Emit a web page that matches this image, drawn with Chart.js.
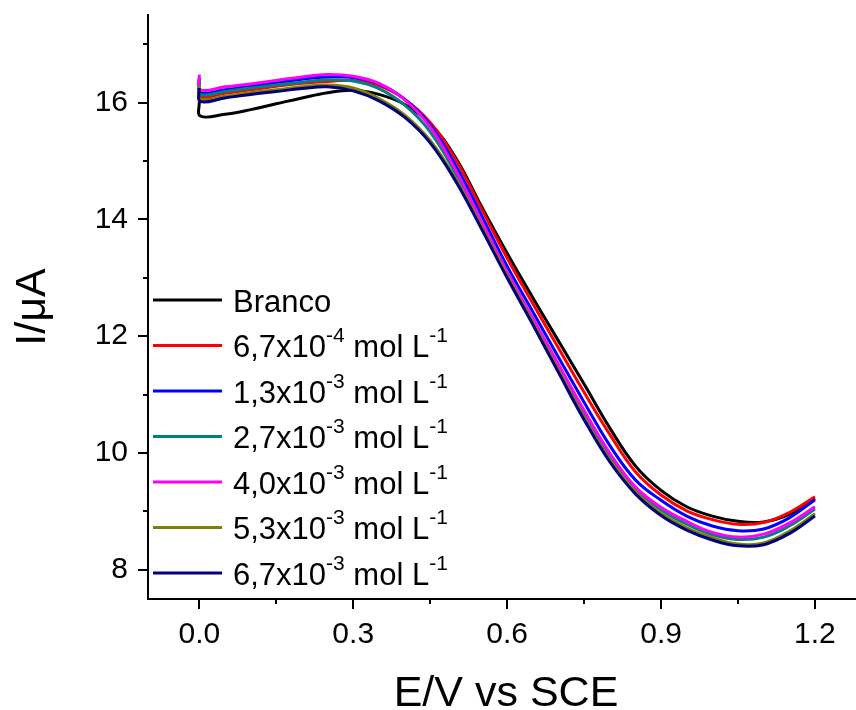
<!DOCTYPE html>
<html>
<head>
<meta charset="utf-8">
<script src="https://cdn.jsdelivr.net/npm/chart.js@4.4.0/dist/chart.umd.min.js"></script>
<style>
  html, body { margin: 0; padding: 0; background: #fff; }
  canvas { display: block; }
</style>
</head>
<body>
<canvas id="chart" width="856" height="710"></canvas>
<script>
'use strict';

/* ---- data ---- */
const E_V = [0, 0.002, 0.05, 0.1, 0.15, 0.2, 0.25, 0.3, 0.35, 0.4, 0.45, 0.5, 0.55, 0.6,
             0.65, 0.7, 0.75, 0.8, 0.85, 0.9, 0.95, 1.0, 1.05, 1.1, 1.15, 1.2];

const branco = [16.02, 15.77, 15.80, 15.88, 15.98, 16.08, 16.17, 16.21, 16.14, 15.97, 15.64, 15.05, 14.22,
                13.42, 12.66, 11.92, 11.18, 10.43, 9.78, 9.36, 9.08, 8.92, 8.83, 8.82, 8.95, 9.22];
const c67e4  = [16.35, 16.10, 16.16, 16.22, 16.28, 16.33, 16.36, 16.38, 16.29, 16.06, 15.66, 15.02, 14.18,
                13.34, 12.56, 11.80, 11.04, 10.32, 9.68, 9.28, 9.01, 8.86, 8.78, 8.81, 8.98, 9.25];
const c13e3  = [16.42, 16.17, 16.22, 16.28, 16.34, 16.40, 16.44, 16.43, 16.32, 16.06, 15.62, 14.92, 14.07,
                13.20, 12.42, 11.64, 10.87, 10.13, 9.54, 9.19, 8.92, 8.75, 8.67, 8.70, 8.89, 9.20];
const c27e3  = [16.38, 16.14, 16.19, 16.25, 16.30, 16.35, 16.39, 16.37, 16.24, 15.96, 15.50, 14.78, 13.93,
                13.08, 12.28, 11.48, 10.68, 9.95, 9.39, 9.03, 8.78, 8.60, 8.52, 8.56, 8.75, 9.04];
const c40e3  = [16.48, 16.22, 16.27, 16.32, 16.38, 16.44, 16.48, 16.45, 16.33, 16.05, 15.58, 14.84, 13.97,
                13.10, 12.31, 11.52, 10.73, 10.00, 9.42, 9.07, 8.83, 8.64, 8.56, 8.61, 8.80, 9.08];
const c53e3  = [16.30, 16.06, 16.11, 16.17, 16.22, 16.27, 16.30, 16.25, 16.07, 15.79, 15.35, 14.69, 13.88,
                13.04, 12.24, 11.42, 10.61, 9.89, 9.34, 8.97, 8.72, 8.55, 8.44, 8.46, 8.66, 8.96];
const c67e3  = [16.25, 16.02, 16.08, 16.14, 16.19, 16.24, 16.27, 16.20, 16.03, 15.75, 15.31, 14.65, 13.84,
                13.00, 12.20, 11.38, 10.57, 9.85, 9.30, 8.93, 8.68, 8.51, 8.41, 8.43, 8.62, 8.92];

const SERIES = [branco, c67e4, c13e3, c27e3, c40e3, c53e3, c67e3];
const COLORS = ['#000000', '#FF0000', '#0000FF', '#008080', '#FF00FF', '#808000', '#000080'];
const LEGEND_BASE = ['Branco', '6,7x10', '1,3x10', '2,7x10', '4,0x10', '5,3x10', '6,7x10'];
const LEGEND_EXP  = [null, '-4', '-3', '-3', '-3', '-3', '-3'];

const X_MAJOR = [0, 0.3, 0.6, 0.9, 1.2];
const X_MINOR = [0.15, 0.45, 0.75, 1.05];
const Y_MAJOR = [8, 10, 12, 14, 16];
const Y_MINOR = [9, 11, 13, 15, 17];

const X_TITLE = 'E/V vs SCE';
const Y_TITLE = 'I/\u03BCA';

const FONT = '"Liberation Sans", Arial, sans-serif';

/* ---- ticks, titles and legend drawn on top of the chart ---- */
const axisDecor = {
  id: 'axisDecor',
  afterDraw(chart) {
    const { ctx, chartArea: a, scales: { x, y } } = chart;
    ctx.save();
    ctx.strokeStyle = '#000';
    ctx.lineWidth = 2;
    ctx.beginPath();
    const xt = (v, len) => { const p = Math.round(x.getPixelForValue(v)); ctx.moveTo(p, a.bottom); ctx.lineTo(p, a.bottom + len); };
    const yt = (v, len) => { const p = Math.round(y.getPixelForValue(v)); ctx.moveTo(a.left, p); ctx.lineTo(a.left - len, p); };
    X_MAJOR.forEach(v => xt(v, 10));
    X_MINOR.forEach(v => xt(v, 5));
    Y_MAJOR.forEach(v => yt(v, 10));
    Y_MINOR.forEach(v => yt(v, 5));
    ctx.stroke();

    // axis titles
    ctx.fillStyle = '#000';
    ctx.textBaseline = 'alphabetic';
    ctx.textAlign = 'center';
    ctx.font = '43px ' + FONT;
    ctx.fillText(X_TITLE, 506, 706);
    ctx.save();
    ctx.translate(45, (a.top + a.bottom) / 2);
    ctx.rotate(-Math.PI / 2);
    ctx.fillText(Y_TITLE, 0, 0);
    ctx.restore();

    // legend with superscripts
    ctx.textAlign = 'left';
    ctx.lineWidth = 3;
    const main = '31px ' + FONT, sup = '21px ' + FONT;
    LEGEND_BASE.forEach((base, i) => {
      const cy = 300 + i * 45.5;
      ctx.strokeStyle = COLORS[i];
      ctx.beginPath();
      ctx.moveTo(153, cy);
      ctx.lineTo(222, cy);
      ctx.stroke();
      const bl = cy + 11.5;
      let tx = 233;
      ctx.font = main;
      ctx.fillText(base, tx, bl);
      if (!LEGEND_EXP[i]) return;
      tx += ctx.measureText(base).width;
      ctx.font = sup;
      ctx.fillText(LEGEND_EXP[i], tx, bl - 15);
      tx += ctx.measureText(LEGEND_EXP[i]).width;
      ctx.font = main;
      ctx.fillText(' mol L', tx, bl);
      tx += ctx.measureText(' mol L').width;
      ctx.font = sup;
      ctx.fillText('-1', tx, bl - 15);
    });
    ctx.restore();
  }
};

const datasets = SERIES.map((s, i) => ({
  label: LEGEND_BASE[i],
  data: E_V.map((e, k) => ({ x: e, y: s[k] })),
  borderColor: COLORS[i],
  borderWidth: 3,
  pointRadius: 0,
  fill: false,
  tension: 0.4,
  order: SERIES.length - i,
}));

new Chart(document.getElementById('chart'), {
  type: 'line',
  data: { datasets },
  options: {
    responsive: false,
    animation: false,
    layout: { padding: { top: 15, right: 0, left: 0, bottom: 0 } },
    plugins: { legend: { display: false }, tooltip: { enabled: false } },
    scales: {
      x: {
        type: 'linear',
        min: -0.1,
        max: 1.28,
        grid: { display: false, drawTicks: false },
        border: { display: true, color: '#000', width: 2 },
        afterBuildTicks: (s) => { s.ticks = X_MAJOR.map(v => ({ value: v })); },
        afterFit: (s) => { s.height = 111; s.paddingLeft = 0; s.paddingRight = 0; },
        ticks: {
          color: '#000',
          font: { family: FONT, size: 30 },
          padding: 18,
          maxRotation: 0,
          callback: (v) => v.toFixed(1),
        },
      },
      y: {
        type: 'linear',
        min: 7.5,
        max: 17.5,
        grid: { display: false, drawTicks: false },
        border: { display: true, color: '#000', width: 2 },
        afterBuildTicks: (s) => { s.ticks = Y_MAJOR.map(v => ({ value: v })); },
        afterFit: (s) => { s.width = 148; s.paddingTop = 0; s.paddingBottom = 0; },
        ticks: {
          color: '#000',
          font: { family: FONT, size: 30 },
          padding: 20,
          callback: (v) => String(v),
        },
      },
    },
  },
  plugins: [axisDecor],
});
</script>
</body>
</html>
